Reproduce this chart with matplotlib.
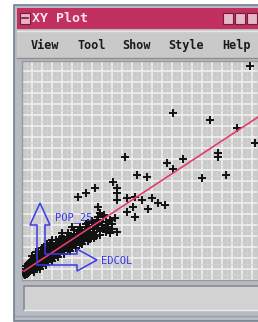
import numpy as np
import matplotlib.pyplot as plt
from matplotlib.patches import Rectangle, Polygon
from matplotlib.ticker import MultipleLocator

# Window texts
title = 'XY Plot'
menu_items = ['View', 'Tool', 'Show', 'Style', 'Help']
x_label = 'EDCOL'
y_label = 'POP_25'

# Scatter values (EDCOL vs POP_25)
edcol = [
    # dense cluster near the origin
    1.0, 1.5, 2.0, 2.0, 2.5, 3.0, 3.0, 3.5, 4.0, 4.0, 4.5, 5.0, 5.0, 5.5, 6.0, 6.0,
    6.5, 7.0, 7.0, 7.5, 8.0, 8.0, 8.5, 9.0, 9.0, 9.5, 10.0, 10.0, 10.5, 11.0, 11.0,
    11.5, 12.0, 12.0, 12.5, 13.0, 13.0, 13.5, 14.0, 14.0, 15.0, 15.0, 15.5, 16.0,
    16.0, 16.5, 17.0, 17.0, 18.0, 18.0, 18.5, 19.0, 19.0, 20.0, 20.0, 20.5, 21.0,
    21.0, 22.0, 22.0, 22.5, 23.0, 23.0, 24.0, 24.0, 25.0, 25.0, 26.0, 26.0, 27.0,
    27.0, 28.0, 28.0, 29.0, 29.0, 30.0, 30.0, 31.0, 31.0, 32.0, 32.0, 33.0, 34.0,
    34.0, 35.0, 36.0, 36.0, 37.0, 38.0, 39.0, 40.0, 41.0, 42.0, 43.0, 44.0, 45.0,
    33.0, 38.0, 40.5,
    1.5, 2.5, 3.5, 4.5, 5.5, 6.5, 7.5, 8.5, 9.5, 10.5, 11.5, 12.5, 13.5, 14.5,
    15.5, 16.5, 17.5, 18.5, 19.5, 20.5, 21.5, 22.5, 23.5, 24.5, 25.5, 26.5, 27.5,
    28.5, 29.5, 30.5, 31.5, 32.5, 33.5, 35.5, 37.5, 3.0, 4.0, 5.0, 6.0, 7.0, 8.0,
    9.0, 10.0, 11.0, 12.0, 13.0, 14.0, 15.0, 16.0, 17.0, 19.0,
    5.0, 8.0, 11.0, 14.0, 17.0, 20.0, 23.0, 26.0, 29.0, 32.0, 35.0, 38.0, 41.0,
    6.0, 9.0, 12.0, 15.0, 18.0, 21.0, 24.0, 27.0, 30.0, 33.0, 36.0, 39.0, 42.0, 45.0,
    10.0, 15.0, 20.0, 25.0, 7.0, 12.5,
    # scattered points
    75.5, 94.0, 107.5, 116.5, 98.0, 98.0, 80.5, 72.5, 75.5, 51.5, 57.5, 62.5,
    90.0, 102.0, 45.5, 36.5, 47.5, 114.0, 56.5, 60.0, 65.0, 68.0, 71.5, 63.0,
    55.5, 56.5, 32.0, 47.5, 47.5, 52.5, 28.0, 38.0, 39.0, 46.5, 52.5, 44.0,
    47.5, 37.5,
]
pop25 = [
    3.0, 5.5, 4.0, 7.0, 5.0, 3.5, 8.0, 6.0, 4.5, 9.0, 7.0, 5.0, 10.0, 7.5, 5.5, 11.0,
    8.5, 6.0, 12.0, 9.0, 6.5, 11.0, 9.5, 7.0, 13.0, 10.5, 8.0, 14.0, 11.0, 8.5, 13.5,
    11.5, 9.0, 15.0, 12.0, 10.0, 14.5, 12.5, 10.5, 16.5, 12.0, 15.5, 13.5, 11.5,
    17.0, 14.5, 12.5, 18.0, 14.0, 16.5, 19.0, 13.0, 16.0, 15.0, 19.5, 17.5, 14.5,
    20.5, 16.5, 19.0, 21.5, 15.5, 18.5, 17.5, 22.0, 16.5, 20.0, 18.5, 23.0, 17.5,
    21.0, 19.5, 24.5, 18.5, 22.5, 20.5, 25.0, 19.5, 23.5, 21.5, 26.5, 23.0, 20.5,
    25.5, 22.5, 27.0, 24.0, 22.0, 26.0, 24.5, 27.5, 25.5, 29.0, 26.5, 30.0, 28.0,
    28.5, 30.0, 31.5,
    2.5, 3.0, 4.0, 5.0, 5.5, 6.5, 7.0, 8.0, 8.5, 9.5, 10.0, 10.5, 11.5, 12.5,
    14.5, 12.5, 15.5, 13.5, 17.5, 15.5, 18.5, 17.0, 20.0, 18.5, 21.5, 19.5, 22.5,
    21.0, 24.0, 22.0, 25.0, 23.5, 27.0, 25.5, 28.5, 6.0, 7.5, 8.5, 9.5, 10.0, 12.5,
    11.5, 12.5, 15.5, 13.5, 16.5, 14.5, 17.5, 15.5, 16.0, 20.5,
    12.0, 14.0, 16.5, 18.5, 20.0, 21.5, 23.5, 25.0, 26.5, 28.0, 29.5, 31.5, 32.5,
    4.0, 5.5, 7.5, 9.5, 11.5, 13.0, 14.5, 16.0, 18.0, 19.5, 21.0, 22.5, 24.0, 25.5,
    16.0, 20.0, 23.5, 26.5, 14.0, 18.0,
    83.5, 80.0, 76.0, 68.5, 61.5, 63.5, 60.5, 58.5, 55.5, 61.5, 52.5, 51.5,
    51.0, 52.5, 49.0, 46.0, 46.0, 107.0, 41.5, 40.0, 41.0, 38.5, 37.5, 35.5,
    36.5, 31.5, 43.5, 43.5, 40.0, 41.0, 41.5, 36.5, 33.5, 31.0, 34.0, 23.5,
    24.0, 30.0,
]

# Regression line shown in red
fit_intercept = 3.8
fit_slope = 0.658

W, H = 258, 322
fig = plt.figure(figsize=(W / 100, H / 100), dpi=100)
fig.patch.set_facecolor('white')

# window chrome drawn in pixel coordinates
chrome = fig.add_axes([0, 0, 1, 1])
chrome.set_xlim(0, W)
chrome.set_ylim(H, 0)
chrome.axis('off')

chrome.add_patch(Rectangle((14, 5), 250, 316, facecolor='#b6bac2', edgecolor='#76808e', lw=1.2))
chrome.add_patch(Rectangle((16.5, 8), 245, 21, facecolor='#c2305f', edgecolor='none'))
chrome.add_patch(Rectangle((19.5, 12.5), 10, 11, facecolor='#e6b4c6', edgecolor='#7a1a3a', lw=0.8))
chrome.plot([21.5, 27.5], [18, 18], color='#7a1a3a', lw=1.2)
for bx in [223, 235, 247]:
    chrome.add_patch(Rectangle((bx, 13), 10, 11, facecolor='#e4b8c8', edgecolor='#7a1a3a', lw=0.8))
chrome.text(32, 18.5, title, fontsize=9.5, family='DejaVu Sans Mono', weight='bold',
            color='#f6e4ec', va='center', ha='left')

chrome.add_patch(Rectangle((16.5, 30), 245, 28, facecolor='#c9c9c9', edgecolor='none'))
chrome.plot([16.5, 258], [30.5, 30.5], color='#e6e6e6', lw=1)
chrome.plot([16.5, 258], [58, 58], color='#8e8e8e', lw=1)
menu_x = [31, 78, 122, 168, 222]
for mx, item in zip(menu_x, menu_items):
    chrome.text(mx, 45, item, fontsize=8.5, family='DejaVu Sans Mono', weight='bold',
                color='#1a1a1a', va='center', ha='left')

# status field under the plot
chrome.add_patch(Rectangle((24, 286), 236, 24, facecolor='#d2d2d2', edgecolor='none'))
chrome.plot([24, 24, 258], [310, 286, 286], color='#8a8a8a', lw=1.2)
chrome.plot([24, 258], [310, 310], color='#ececec', lw=1)
chrome.plot([14.5, 258], [316, 316], color='#9a9ea6', lw=1)

# plot area
ax = fig.add_axes([22 / W, (H - 280) / H, 236 / W, 219 / H])
ax.set_zorder(1)
ax.set_facecolor('#cacaca')
ax.set_xlim(0, 118)
ax.set_ylim(0, 109.5)
ax.xaxis.set_major_locator(MultipleLocator(5))
ax.xaxis.set_minor_locator(MultipleLocator(2.5))
ax.yaxis.set_major_locator(MultipleLocator(5.5))
ax.yaxis.set_minor_locator(MultipleLocator(2.75))
ax.grid(which='major', color='#f0f0f0', lw=1.2)
ax.grid(which='minor', color='#d3d3d3', lw=0.7)
ax.set_axisbelow(True)
ax.tick_params(which='both', length=0, labelbottom=False, labelleft=False)
for s in ax.spines.values():
    s.set_color('#9a9a9a')
    s.set_linewidth(1)

ax.plot(edcol, pop25, '+', color='#111111', ms=6, mew=1.4, zorder=3)
xs = np.array([1, 118])
ax.plot(xs, fit_intercept + fit_slope * xs, color='#e33d68', lw=1.2, zorder=4)

# axis glyph overlay
over = fig.add_axes([0, 0, 1, 1])
over.set_zorder(2)
over.patch.set_visible(False)
over.set_xlim(0, W)
over.set_ylim(H, 0)
over.axis('off')
arrow = [(37, 225), (30, 225), (40, 203), (50, 225), (45, 225), (45, 254), (77, 254),
         (77, 249), (97, 260), (77, 271), (77, 265), (37, 265)]
over.add_patch(Polygon(arrow, closed=True, fill=False, edgecolor='#3a3ae8', lw=1.1))
over.text(55, 218, y_label, fontsize=7.5, family='DejaVu Sans Mono', color='#3a3ae8',
          va='center', ha='left')
over.text(101, 261, x_label, fontsize=7.5, family='DejaVu Sans Mono', color='#3a3ae8',
          va='center', ha='left')

fig.savefig('out.png', dpi=100)
